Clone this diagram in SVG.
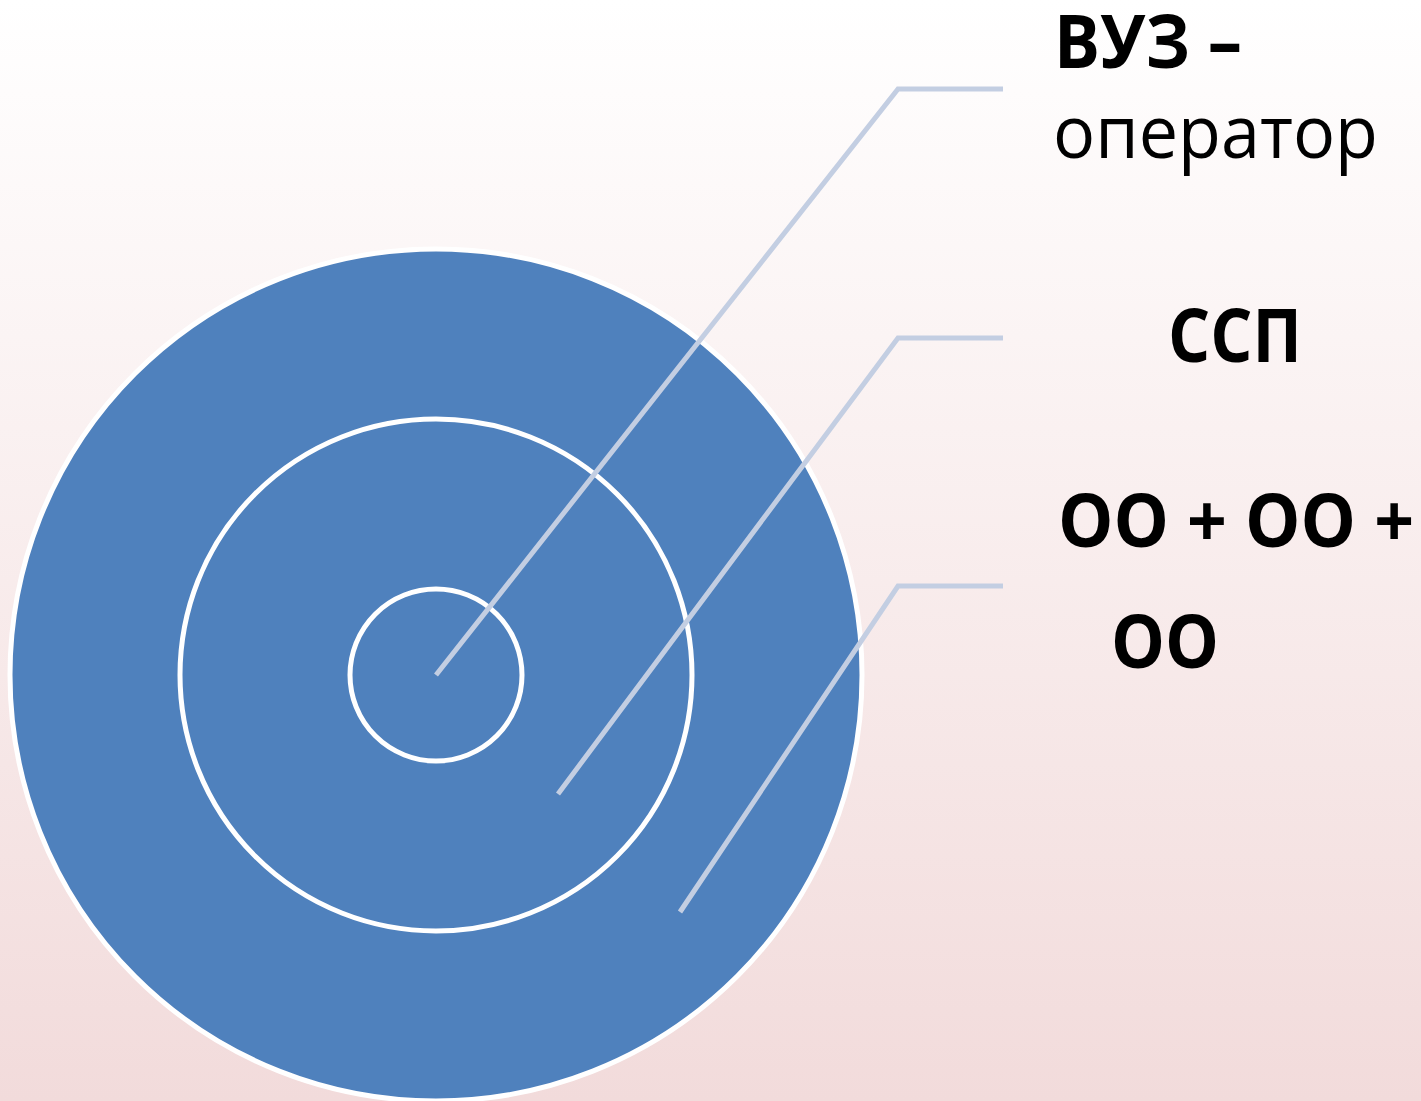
<svg xmlns="http://www.w3.org/2000/svg" width="1421" height="1101" viewBox="0 0 1421 1101">
<defs>
<linearGradient id="bg" x1="0" y1="0" x2="0" y2="1">
<stop offset="0" stop-color="#ffffff"/>
<stop offset="1" stop-color="#f2dbdb"/>
</linearGradient>
</defs>
<style>
.ring{fill:#4f81bd;stroke:#ffffff;stroke-width:5}
.conn{fill:none;stroke:#c3cee2;stroke-width:5}
.lbl{font-family:"Open Sans","DejaVu Sans",sans-serif;font-size:74px;fill:#000000}
.b{font-weight:bold}
</style>
<rect x="0" y="0" width="1421" height="1101" fill="url(#bg)"/>
<g id="outer"><circle class="ring" cx="436" cy="675" r="426"/></g>
<g id="middle"><circle class="ring" cx="436" cy="675" r="256"/></g>
<g id="inner"><circle class="ring" cx="436" cy="675" r="86"/></g>
<g id="connectors">
<polyline class="conn" points="436,675 898,89 1003,89"/>
<polyline class="conn" points="558,794 898,338 1003,338"/>
<polyline class="conn" points="680,912 898,586 1003,586"/>
</g>
<g id="label-vuz">
<text class="lbl b" x="1054" y="68" textLength="188" lengthAdjust="spacingAndGlyphs">ВУЗ –</text>
<text class="lbl" x="1053" y="158" textLength="325" lengthAdjust="spacingAndGlyphs">оператор</text>
</g>
<g id="label-ssp">
<text class="lbl b" x="1168" y="362" textLength="134" lengthAdjust="spacingAndGlyphs">ССП</text>
</g>
<g id="label-oo">
<text class="lbl b" x="1058" y="547" textLength="356" lengthAdjust="spacingAndGlyphs">ОО + ОО +</text>
<text class="lbl b" x="1111" y="668" textLength="108" lengthAdjust="spacingAndGlyphs">ОО</text>
</g>
</svg>
